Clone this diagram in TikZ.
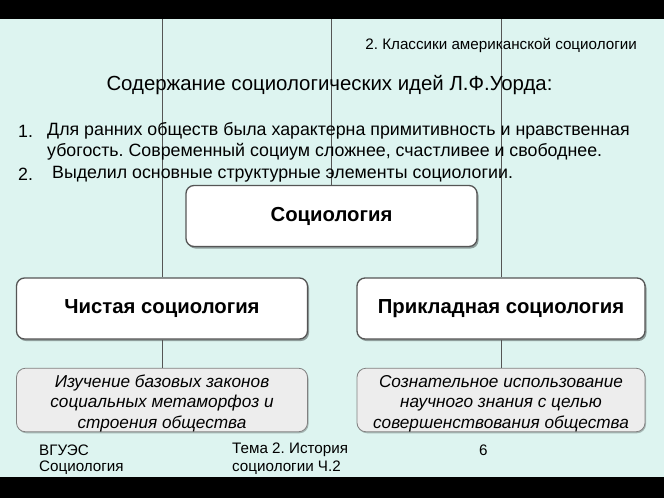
\documentclass[tikz,border=0pt]{standalone}
\usepackage{fontspec}
\setmainfont{Liberation Sans}
\frenchspacing
\usetikzlibrary{shadows}
\definecolor{bgmint}{HTML}{DDF4F0}
\definecolor{lineg}{HTML}{555555}
\definecolor{boxg}{HTML}{EDEDED}
\tikzset{
  topbox/.style={draw=lineg, line width=1.3pt, fill=white, rounded corners=8pt,
    minimum width=291pt, minimum height=61pt, align=center, inner sep=0pt,
    drop shadow={shadow xshift=1.5pt, shadow yshift=-2pt, fill=black, opacity=0.35},
    font=\fontsize{20.3}{23}\selectfont\bfseries},
  botbox/.style={draw=gray, line width=0.8pt, fill=boxg, rounded corners=9pt,
    minimum width=291pt, minimum height=61pt, align=center, inner sep=0pt,
    drop shadow={shadow xshift=1pt, shadow yshift=-1.5pt, fill=black, opacity=0.25},
    font=\fontsize{17.2}{20.5}\selectfont\itshape},
  conn/.style={draw=lineg, line width=0.8pt},
  txt/.style={inner sep=0pt, anchor=west},
  listf/.style={font=\fontsize{17.8}{21}\selectfont},
  footf/.style={font=\fontsize{15.2}{18}\selectfont},
}
\newcommand{\tallstrut}{\rule{0pt}{19pt}}
\begin{document}
\begin{tikzpicture}[x=1pt,y=-1pt]
\useasboundingbox (0,0) rectangle (664,498);
\fill[bgmint] (0,0) rectangle (664,498);
\fill[black] (0,0) rectangle (664,19);
\fill[black] (0,477) rectangle (664,498);

% boxes
\node[topbox] (soc) at (331.5,216) {Социология};
\node[topbox] (pure) at (162,308.5) {Чистая социология};
\node[topbox, minimum width=288pt] (appl) at (501,308.5) {Прикладная социология};
\node[botbox] (purebot) at (162,400) {\tallstrut Изучение базовых законов\\социальных метаморфоз и\\строения общества};
\node[botbox, minimum width=288pt] (applbot) at (501,400) {\tallstrut Сознательное использование\\научного знания с целью\\совершенствования общества};

% connectors
\coordinate (tl) at (162,19);
\coordinate (tm) at (331.5,19);
\coordinate (tr) at (501,19);
\draw[conn] (tl) -- (pure.north);
\draw[conn] (tm) -- (soc.north);
\draw[conn] (tr) -- (appl.north);
\draw[conn] (pure.south) -- (purebot.north);
\draw[conn] (appl.south) -- (applbot.north);

% texts
\node[txt, anchor=east, font=\fontsize{15.2}{18}\selectfont] (title) at (637,45) {2. Классики американской социологии};
\node[inner sep=0pt, font=\fontsize{20.4}{24}\selectfont] (head) at (329.5,85) {Содержание социологических идей Л.Ф.Уорда:};
\node[txt, listf] (n1) at (18,131) {1.};
\node[txt, listf] (l1) at (47,131) {Для ранних обществ была характерна примитивность и нравственная};
\node[txt, listf] (l2) at (47,152) {убогость. Современный социум сложнее, счастливее и свободнее.};
\node[txt, listf] (n2) at (18,174) {2.};
\node[txt, listf] (l3) at (52,174) {Выделил основные структурные элементы социологии.};

\node[txt, footf] (f1a) at (39,450) {ВГУЭС};
\node[txt, footf] (f1b) at (39,468) {Социология};
\node[txt, footf] (f2a) at (232,450) {Тема 2. История};
\node[txt, footf] (f2b) at (232,468) {социологии Ч.2};
\node[txt, footf] (f3) at (479,450) {6};
\end{tikzpicture}
\end{document}
